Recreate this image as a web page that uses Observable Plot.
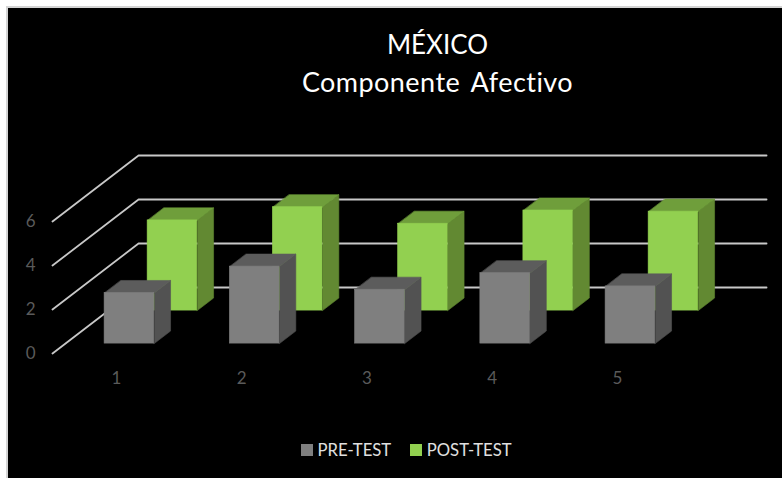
<!DOCTYPE html>
<html lang="es">
<head>
<meta charset="utf-8">
<title>México – Componente Afectivo</title>
<script src="https://cdn.jsdelivr.net/npm/d3@7"></script>
<script src="https://cdn.jsdelivr.net/npm/@observablehq/plot@0.6"></script>
<style>
  html, body { margin: 0; padding: 0; background: #fff; width: 782px; height: 478px; overflow: hidden; }
  #frame {
    position: absolute; left: 6px; top: 6px; width: 776px; height: 472px;
    box-sizing: border-box; background: #000;
    border-left: 2px solid #d4d4d4; border-top: 2px solid #d4d4d4;
    font-family: Lato, "Open Sans", sans-serif;
  }
  #heading {
    position: absolute; left: -8px; top: -8px; width: 782px; height: 112px;
    box-sizing: border-box; padding-top: 25px; padding-left: 93px;
    text-align: center; color: #fff; font-size: 26px; line-height: 38px;
  }
  #heading span { font-size: 27px; letter-spacing: 0.45px; word-spacing: 4px; }
  #chart { position: absolute; left: -8px; top: 104px; }
  #chart svg { display: block; background: transparent; }
  #key { position: absolute; left: 293px; top: 425px; color: #e0e0e0; font-size: 16.7px; }
  #key svg { margin-right: 4.5px !important; }
  #key span { margin-right: 19px !important; }
</style>
</head>
<body>
<div id="frame">
  <div id="heading">MÉXICO<br><span>Componente Afectivo</span></div>
  <div id="chart"></div>
  <div id="key"></div>
</div>
<script>
// Survey results: mean score by item, before and after the intervention
const categories = [1, 2, 3, 4, 5];
const preTest = [2.3, 3.5, 2.45, 3.2, 2.6];
const postTest = [4.1, 4.7, 3.95, 4.55, 4.5];
const yTicks = [0, 2, 4, 6];
const seriesNames = ["PRE-TEST", "POST-TEST"];
const seriesColors = ["#7f7f7f", "#92d050"];

// Oblique projection: depth 0 is the front of the floor, depth 1 the back wall.
const depthX = 0.687;    // category units per unit of depth
const depthY = 3;        // value units per unit of depth
const halfWidth = 0.198; // half a bar's width, in category units
const wallLeft = 0.489;  // where the gridlines start, in category units
const wallRight = 6.19;  // where the back wall ends

const project = (x, y, depth) => ({x: x + depth * depthX, y: y + depth * depthY});

// Gridlines run forward along the side wall and then across the back wall.
const gridPoints = yTicks.flatMap((value) => [
  {value, ...project(wallLeft, value, 0)},
  {value, ...project(wallLeft, value, 1)},
  {value, ...project(wallRight - depthX, value, 1)}
]);

// Front face rectangle plus the two visible parallelograms of a 3D column.
function column(values, near, far) {
  const front = [], top = [], side = [];
  values.forEach((v, i) => {
    const c = categories[i];
    const l = c - halfWidth, r = c + halfWidth;
    const a = project(l, 0, near), b = project(r, 0, near);
    front.push({x1: a.x, x2: b.x, y1: a.y, y2: a.y + v});
    [[l, v, near], [r, v, near], [r, v, far], [l, v, far]].forEach(([x, y, d]) =>
      top.push({id: c, ...project(x, y, d)}));
    [[r, 0, near], [r, 0, far], [r, v, far], [r, v, near]].forEach(([x, y, d]) =>
      side.push({id: c, ...project(x, y, d)}));
  });
  return {front, top, side};
}

// A hairline stroke in each face's own colour closes the seams between faces.
function columnMarks({front, top, side}, faceColor, topColor, sideColor) {
  return [
    Plot.line(side, {x: "x", y: "y", z: "id", fill: sideColor, stroke: sideColor, strokeWidth: 0.6, curve: "linear-closed"}),
    Plot.line(top, {x: "x", y: "y", z: "id", fill: topColor, stroke: topColor, strokeWidth: 0.6, curve: "linear-closed"}),
    Plot.rect(front, {x1: "x1", x2: "x2", y1: "y1", y2: "y2", fill: faceColor, stroke: faceColor, strokeWidth: 0.6})
  ];
}

const post = column(postTest, 0.65, 0.84);
const pre = column(preTest, 0.15, 0.34);

const chart = Plot.plot({
  width: 782,
  height: 321,
  marginLeft: 35,
  marginRight: 0,
  marginTop: 0,
  marginBottom: 67,
  style: {background: "transparent", fontFamily: "Lato, sans-serif", overflow: "visible"},
  x: {domain: [1, 5], range: [116, 617], label: null},
  y: {domain: [0, 6], range: [241, 109], label: null},
  marks: [
    Plot.line(gridPoints, {x: "x", y: "y", z: "value", stroke: "#c8c8c8", strokeWidth: 1.8}),
    ...columnMarks(post, seriesColors[1], "#6f9e3b", "#628932"),
    ...columnMarks(pre, seriesColors[0], "#5c5c5c", "#525252"),
    Plot.axisY(yTicks, {anchor: "left", tickSize: 0, tickPadding: 0, fontSize: 17, fill: "#5a5a5a", label: null}),
    Plot.axisX(categories, {anchor: "bottom", tickSize: 0, tickPadding: 5, fontSize: 17, fill: "#5a5a5a", label: null, tickFormat: String})
  ]
});
document.getElementById("chart").append(chart);

const key = Plot.legend({
  color: {domain: seriesNames, range: seriesColors},
  swatchSize: 12,
  swatchHeight: 12,
  swatchWidth: 12,
  style: {background: "transparent", color: "#e0e0e0", fontSize: "16.7px", fontFamily: "Lato, sans-serif"}
});
document.getElementById("key").append(key);
</script>
</body>
</html>
